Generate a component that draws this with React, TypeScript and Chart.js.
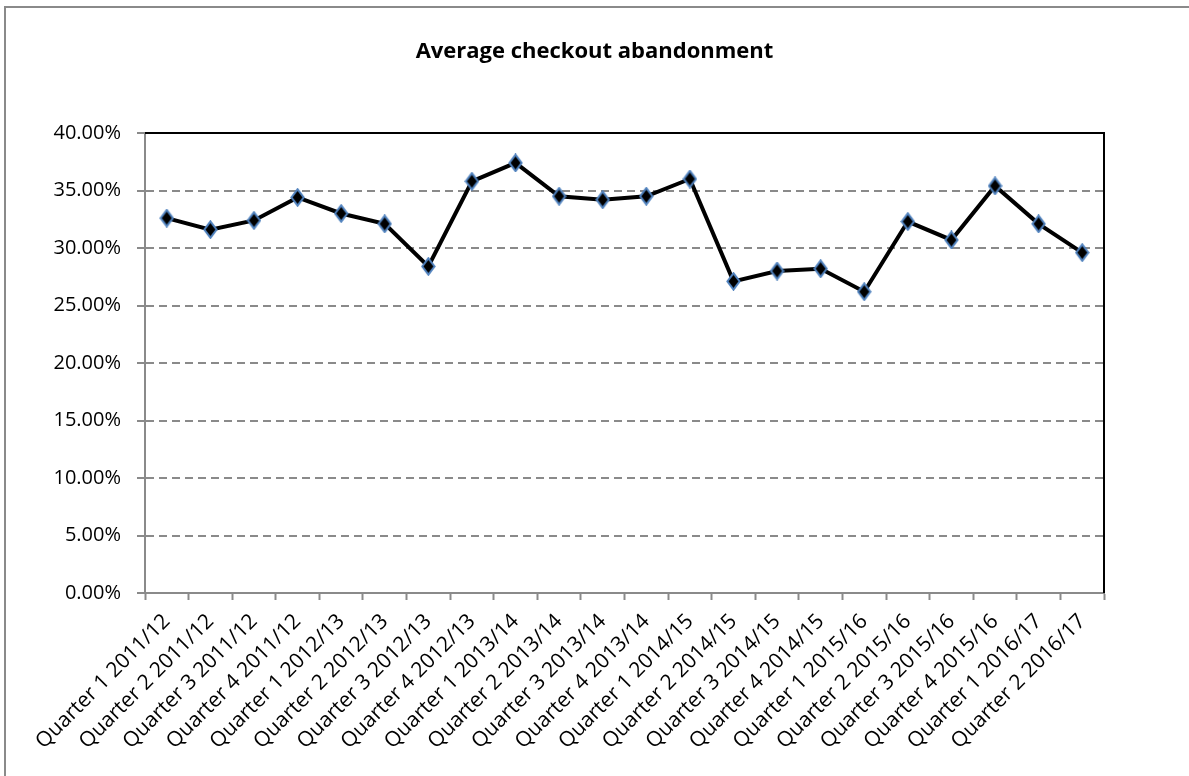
import React, { useEffect, useRef } from "react";
import { Chart, registerables } from "chart.js";

Chart.register(...registerables);

const categories = [
  "Quarter 1 2011/12", "Quarter 2 2011/12", "Quarter 3 2011/12", "Quarter 4 2011/12",
  "Quarter 1 2012/13", "Quarter 2 2012/13", "Quarter 3 2012/13", "Quarter 4 2012/13",
  "Quarter 1 2013/14", "Quarter 2 2013/14", "Quarter 3 2013/14", "Quarter 4 2013/14",
  "Quarter 1 2014/15", "Quarter 2 2014/15", "Quarter 3 2014/15", "Quarter 4 2014/15",
  "Quarter 1 2015/16", "Quarter 2 2015/16", "Quarter 3 2015/16", "Quarter 4 2015/16",
  "Quarter 1 2016/17", "Quarter 2 2016/17",
];

const abandonment = [
  32.6, 31.6, 32.4, 34.4,
  33.0, 32.1, 28.4, 35.8,
  37.4, 34.5, 34.2, 34.5,
  36.0, 27.1, 28.0, 28.2,
  26.2, 32.3, 30.7, 35.4,
  32.1, 29.6,
];

const yMin = 0;
const yMax = 40;
const yStep = 5;

const TITLE = "Average checkout abandonment";
const FONT = "'Open Sans', 'Noto Sans', sans-serif";

function makeDiamond(): HTMLCanvasElement {
  const c = document.createElement("canvas");
  c.width = 15;
  c.height = 19;
  const g = c.getContext("2d")!;
  g.beginPath();
  g.moveTo(7.5, 1.3);
  g.lineTo(13.6, 9.5);
  g.lineTo(7.5, 17.7);
  g.lineTo(1.4, 9.5);
  g.closePath();
  g.fillStyle = "#000000";
  g.fill();
  g.strokeStyle = "#4F81BD";
  g.lineWidth = 2;
  g.stroke();
  return c;
}

const frame = {
  id: "frame",
  beforeDraw(chart: any) {
    const ctx = chart.ctx;
    ctx.save();
    ctx.fillStyle = "#ffffff";
    ctx.fillRect(0, 0, chart.width, chart.height);
    ctx.strokeStyle = "#8a8a8a";
    ctx.lineWidth = 2;
    ctx.strokeRect(5, 7, chart.width + 50, chart.height + 50);
    ctx.fillStyle = "#000000";
    ctx.font = `bold 22px ${FONT}`;
    ctx.textAlign = "center";
    ctx.textBaseline = "middle";
    ctx.fillText(TITLE, chart.width / 2, 52);
    ctx.restore();
  },
  beforeDatasetsDraw(chart: any) {
    const { ctx, chartArea } = chart;
    ctx.save();
    ctx.strokeStyle = "#000000";
    ctx.lineWidth = 2;
    ctx.beginPath();
    ctx.moveTo(chartArea.left, chartArea.top);
    ctx.lineTo(chartArea.right, chartArea.top);
    ctx.lineTo(chartArea.right, chartArea.bottom);
    ctx.stroke();
    ctx.restore();
  },
};

export default function App() {
  const ref = useRef<HTMLCanvasElement | null>(null);

  useEffect(() => {
    if (!ref.current) return;
    const diamond = makeDiamond();
    const chart = new Chart(ref.current, {
      type: "line",
      data: {
        labels: categories,
        datasets: [
          {
            label: TITLE,
            data: abandonment,
            borderColor: "#000000",
            borderWidth: 4,
            pointStyle: diamond as any,
            pointRadius: 8,
            backgroundColor: "#000000",
            tension: 0,
          },
        ],
      },
      options: {
        responsive: false,
        animation: false,
        events: [],
        layout: { padding: { left: 0, right: 85, top: 133, bottom: 0 } },
        plugins: {
          legend: { display: false },
          tooltip: { enabled: false },
          title: { display: false },
        },
        scales: {
          x: {
            type: "category",
            offset: true,
            afterFit(scale: any) {
              scale.height = 183;
            },
            grid: {
              offset: true,
              drawOnChartArea: false,
              drawTicks: true,
              tickLength: 7,
              tickColor: "#8a8a8a",
              tickWidth: 2,
            },
            border: { display: true, color: "#8a8a8a", width: 2 },
            ticks: {
              autoSkip: false,
              maxRotation: 45,
              minRotation: 45,
              padding: 9,
              color: "#000000",
              font: { family: FONT, size: 21 },
            },
          },
          y: {
            min: yMin,
            max: yMax,
            afterFit(scale: any) {
              scale.width = 145;
            },
            grid: {
              color: "#8a8a8a",
              lineWidth: 2,
              drawTicks: true,
              tickLength: 8,
              tickColor: "#8a8a8a",
              tickWidth: 2,
              tickBorderDash: [],
            } as any,
            border: { display: true, color: "#8a8a8a", width: 2, dash: [8, 5] } as any,
            ticks: {
              stepSize: yStep,
              padding: 16,
              color: "#000000",
              font: { family: FONT, size: 20 },
              callback: (v: any) => Number(v).toFixed(2) + "%",
            },
          },
        },
      },
      plugins: [frame],
    });
    return () => chart.destroy();
  }, []);

  return (
    <div style={{ position: "fixed", left: 0, top: 0, width: 1189, height: 776, background: "#fff" }}>
      <canvas ref={ref} width={1189} height={776} style={{ display: "block" }} />
    </div>
  );
}
